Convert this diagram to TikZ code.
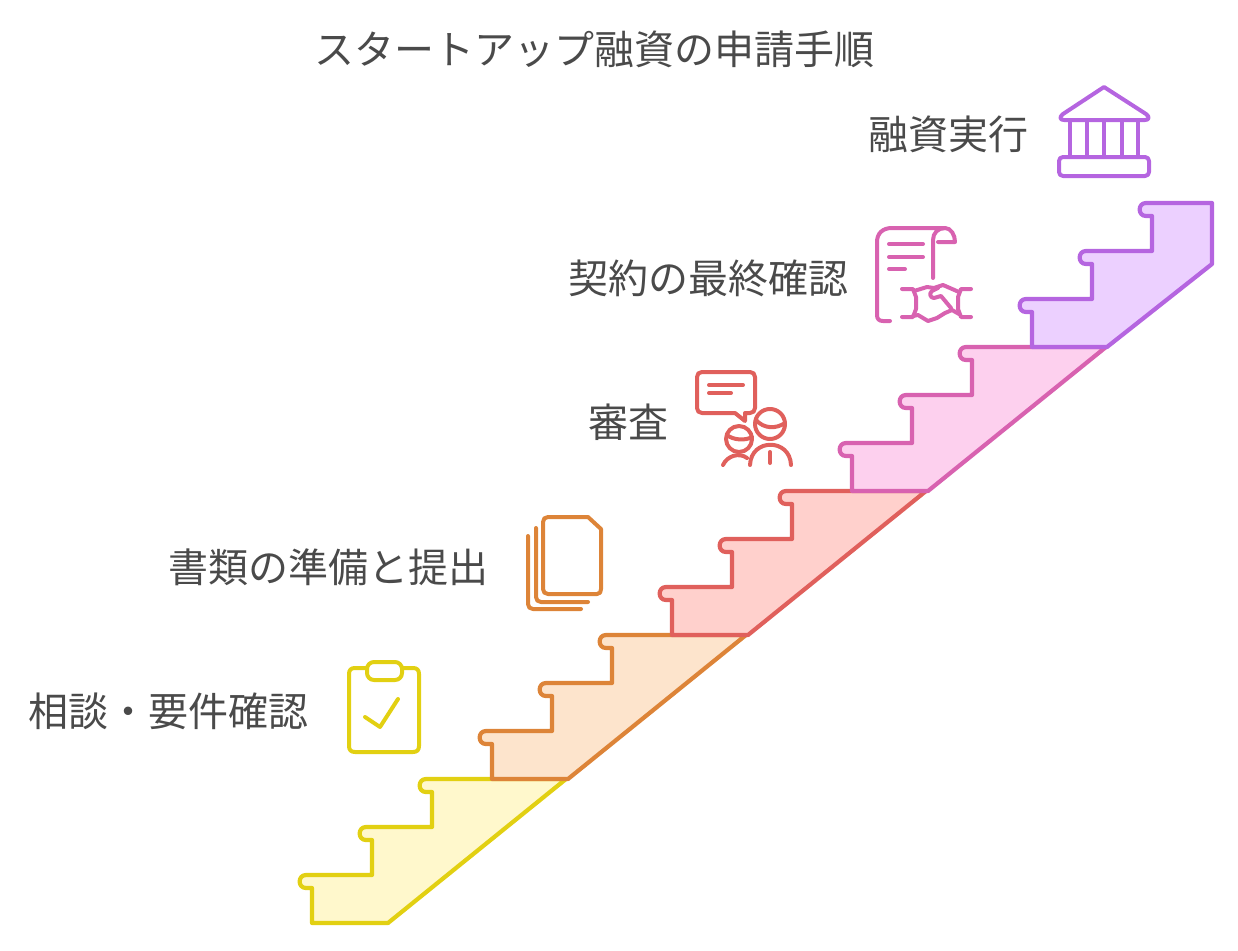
\documentclass[tikz,border=0pt]{standalone}
\usepackage{fontspec}
\setmainfont{Noto Sans CJK JP}
\definecolor{cyel}{HTML}{E2D012}\definecolor{fyel}{HTML}{FFF8CC}
\definecolor{cora}{HTML}{DD8438}\definecolor{fora}{HTML}{FDE4CC}
\definecolor{cred}{HTML}{E0605C}\definecolor{fred}{HTML}{FFD0CC}
\definecolor{cpin}{HTML}{D862B0}\definecolor{fpin}{HTML}{FDD0EE}
\definecolor{cpur}{HTML}{B565E0}\definecolor{fpur}{HTML}{ECD0FF}
\definecolor{ctxt}{HTML}{4A4A4A}
\newcommand{\stairrest}{(426,779) .. controls (417.5,779) and (417.5,792) .. (426,792) -- (432,792) -- (432,827)
  -- (366,827) .. controls (357.5,827) and (357.5,840) .. (366,840) -- (372,840) -- (372,875)
  -- (306,875) .. controls (297.5,875) and (297.5,888) .. (306,888) -- (312,888) -- (312,923) -- cycle}
\tikzset{
  x=1pt,y=-1pt,
  lab/.style={font=\fontsize{40}{48}\selectfont,text=ctxt,anchor=west,inner sep=0pt},
  stairpart/.style={line width=4.2pt,line join=round,draw=#1},
  ic/.style={line width=4pt,line cap=round,line join=round,draw=#1,fill=none}
}
\begin{document}
\begin{tikzpicture}
\useasboundingbox (0,0) rectangle (1238,950);
% stairs
\draw[stairpart=cyel,fill=fyel] (312,923) -- (388,923) -- (566,779) -- \stairrest;
\begin{scope}[shift={(180,-144)}]
\draw[stairpart=cora,fill=fora] (312,923) -- (388,923) -- (566,779) -- \stairrest;
\end{scope}
\begin{scope}[shift={(360,-288)}]
\draw[stairpart=cred,fill=fred] (312,923) -- (388,923) -- (566,779) -- \stairrest;
\end{scope}
\begin{scope}[shift={(540,-432)}]
\draw[stairpart=cpin,fill=fpin] (312,923) -- (388,923) -- (566,779) -- \stairrest;
\end{scope}
\begin{scope}[shift={(720,-576)}]
\draw[stairpart=cpur,fill=fpur] (312,923) -- (387,923) -- (492,840) -- (492,779) -- \stairrest;
\end{scope}
% texts
\node[lab] (title) at (314,49) {スタートアップ融資の申請手順};
\node[lab] (t5) at (868,134) {融資実行};
\node[lab] (t4) at (568,278) {契約の最終確認};
\node[lab] (t3) at (588,422.5) {審査};
\node[lab] (t2) at (168,567) {書類の準備と提出};
\node[lab] (t1) at (28,711) {相談・要件確認};
% clipboard
\draw[ic=cyel] (367,668) -- (355,668) .. controls (351,668) and (349,670) .. (349,674) -- (349,746) .. controls (349,750) and (351,752) .. (355,752) -- (413,752) .. controls (417,752) and (419,750) .. (419,746) -- (419,674) .. controls (419,670) and (417,668) .. (413,668) -- (402,668);
\draw[ic=cyel,rounded corners=7pt] (367,662) rectangle (402,680);
\draw[ic=cyel] (365,717) -- (380,727) -- (398,699);
% documents
\draw[ic=cora] (548,517) -- (588,517) -- (601,529) -- (601,589) .. controls (601,592) and (600,594) .. (597,594) -- (548,594) .. controls (545,594) and (543,592) .. (543,589) -- (543,522) .. controls (543,519) and (545,517) .. (548,517) -- cycle;
\draw[ic=cora] (536,528) -- (536,597) .. controls (536,600) and (538,602) .. (541,602) -- (588,602);
\draw[ic=cora] (528,536) -- (528,604) .. controls (528,607) and (530,609) .. (533,609) -- (581,609);
% review
\draw[ic=cred] (702,372) -- (750,372) .. controls (753,372) and (755,374) .. (755,377) -- (755,408) .. controls (755,411) and (753,413) .. (750,413) -- (745,413) -- (745,421) -- (735,413) -- (702,413) .. controls (699,413) and (697,411) .. (697,408) -- (697,377) .. controls (697,374) and (699,372) .. (702,372) -- cycle;
\draw[ic=cred] (709,385) -- (743,385);
\draw[ic=cred] (709,393) -- (731,393);
\draw[ic=cred] (770,424) circle[radius=15];
\draw[ic=cred] (756,420) .. controls (764,429) and (776,429) .. (785,423);
\draw[ic=cred] (739,439) circle[radius=13];
\draw[ic=cred] (727,435) .. controls (733,440) and (745,441) .. (752,437);
\draw[ic=cred] (750,465) .. controls (751,438) and (790,438) .. (791,465);
\draw[ic=cred] (770,452) -- (770,463);
\draw[ic=cred] (723,465) .. controls (727,456) and (739,452) .. (747,458);
% contract
\draw[ic=cpin] (890,321) -- (883,321) .. controls (879,321) and (877,319) .. (877,315) -- (877,242) .. controls (877,233) and (883,228) .. (892,228) -- (945,228) .. controls (951,228) and (955,235) .. (955,242) -- (938,242);
\draw[ic=cpin] (933,278) -- (933,240) .. controls (933,233) and (938,228) .. (945,228);
\draw[ic=cpin] (889,244) -- (923,244);
\draw[ic=cpin] (889,257) -- (923,257);
\draw[ic=cpin] (889,269) -- (905,269);
\draw[ic=cpin] (902,289) -- (913,289) -- (916,297) -- (916,309) -- (913,317) -- (902,317);
\draw[ic=cpin] (971,289) -- (961,289) -- (958,297) -- (958,309) -- (961,317) -- (971,317);
\draw[ic=cpin] (914,291) -- (927,287) -- (934,288) -- (943,285) -- (959,292);
\draw[ic=cpin] (913,316) -- (918,315) -- (928,321) -- (937,318) -- (945,313) -- (952,310) -- (959,314);
\draw[ic=cpin] (938,288) -- (932,291) .. controls (929,293) and (930,298) .. (934,298) -- (941,296) -- (951,308);
% bank
\draw[ic=cpur] (1104,87) -- (1146,114) .. controls (1150,117) and (1149,120) .. (1145,120) -- (1064,120) .. controls (1060,120) and (1059,117) .. (1063,114) -- cycle;
\foreach \cx in {1070,1087,1104,1122,1138}{\draw[ic=cpur] (\cx,120) -- (\cx,157);}
\draw[ic=cpur,rounded corners=4pt] (1059,157) rectangle (1149,176);
\end{tikzpicture}
\end{document}
